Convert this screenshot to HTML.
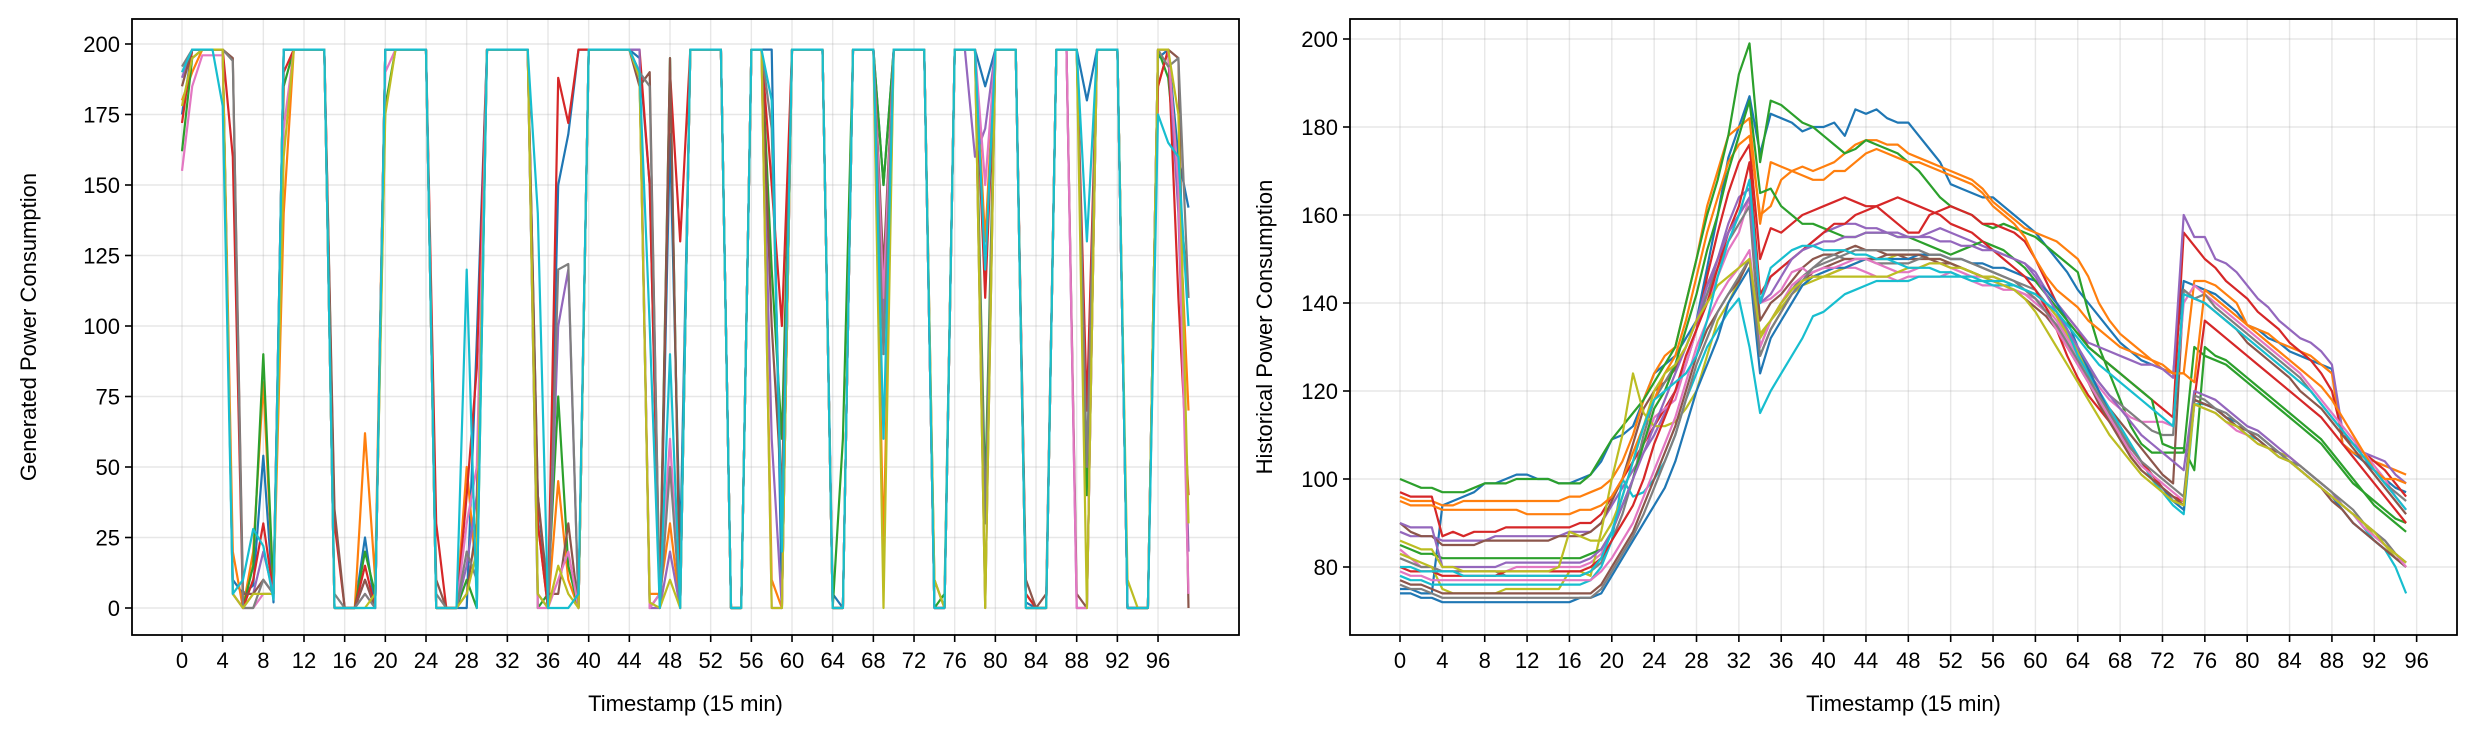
<!DOCTYPE html>
<html><head><meta charset="utf-8"><style>
html,body{margin:0;padding:0;background:#fff;}
svg{display:block;font-family:"Liberation Sans","DejaVu Sans",sans-serif;}
</style></head><body>
<svg id="chart" width="2476" height="742" viewBox="0 0 2476 742" xmlns="http://www.w3.org/2000/svg">
<rect width="2476" height="742" fill="#fff"/>
<g id="left"></g>
<g id="right"></g>
</svg>
<script>
const colors=["#1f77b4","#ff7f0e","#2ca02c","#d62728","#9467bd","#8c564b","#e377c2","#7f7f7f","#bcbd22","#17becf"];
const leftYTicks=[0,25,50,75,100,125,150,175,200];
const rightYTicks=[80,100,120,140,160,180,200];
const xTicks=[0,4,8,12,16,20,24,28,32,36,40,44,48,52,56,60,64,68,72,76,80,84,88,92,96];
const genBlue=[175,198,198,198,198,10,5,8,54,2,198,198,198,198,198,0,0,0,25,0,198,198,198,198,198,0,0,0,0,95,198,198,198,198,198,40,0,150,168,198,198,198,198,198,198,195,150,2,168,20,198,198,198,198,0,0,198,198,198,0,198,198,198,198,5,0,198,198,198,150,198,198,198,198,0,0,198,198,198,185,198,198,198,2,0,0,198,198,198,180,198,198,198,0,0,0,195,198,160,142];
const genOrange=[180,190,198,198,198,20,0,20,80,5,140,198,198,198,198,0,0,0,62,10,198,198,198,198,198,0,0,0,50,10,198,198,198,198,198,30,0,45,10,0,198,198,198,198,198,190,5,5,30,0,198,198,198,198,0,0,198,198,10,0,198,198,198,198,0,0,198,198,198,20,198,198,198,198,0,0,198,198,198,130,198,198,198,5,0,0,198,198,198,40,198,198,198,0,0,0,185,198,150,70];
const genGreen=[162,195,198,198,198,5,0,15,90,5,185,198,198,198,198,0,0,0,20,5,178,198,198,198,198,0,0,0,10,0,198,198,198,198,198,0,5,75,15,0,198,198,198,198,198,190,0,5,195,2,198,198,198,198,0,0,198,198,120,60,198,198,198,198,0,60,198,198,198,150,198,198,198,198,0,5,198,198,198,40,198,198,198,0,0,0,198,198,198,40,198,198,198,0,0,0,198,188,150,110];
const genRed=[172,198,198,198,198,160,0,10,30,5,190,198,198,198,198,30,0,0,15,0,198,198,198,198,198,30,0,0,40,85,198,198,198,198,198,30,0,188,172,198,198,198,198,198,198,198,150,0,190,130,198,198,198,198,0,0,198,198,150,100,198,198,198,198,0,0,198,198,198,100,198,198,198,198,0,0,198,198,198,110,198,198,198,5,0,0,198,198,198,70,198,198,198,0,0,0,185,198,110,40];
const genPurple=[188,198,198,198,198,5,0,5,20,5,198,198,198,198,198,0,0,0,10,0,198,198,198,198,198,0,0,0,15,40,198,198,198,198,198,5,0,100,120,0,198,198,198,198,198,198,0,0,20,0,198,198,198,198,0,0,198,198,60,0,198,198,198,198,0,0,198,198,198,100,198,198,198,198,0,0,198,198,160,170,198,198,198,0,0,0,198,198,0,0,198,198,198,0,0,0,198,198,140,20];
const genBrown=[185,198,198,198,198,195,5,5,10,5,198,198,198,198,198,35,0,0,10,0,198,198,198,198,198,10,0,0,5,30,198,198,198,198,198,40,5,5,30,0,198,198,198,198,198,185,190,0,195,0,198,198,198,198,0,0,198,198,100,40,198,198,198,198,0,0,198,198,198,120,198,198,198,198,10,0,198,198,198,0,198,198,198,10,0,5,198,198,5,0,198,198,198,0,0,0,198,198,195,0];
const genPink=[155,185,196,196,196,5,0,0,5,5,170,198,198,198,198,0,0,0,5,0,190,198,198,198,198,0,0,0,30,50,198,198,198,198,198,0,0,10,20,0,198,198,198,198,198,190,0,5,60,0,198,198,198,198,0,0,198,198,0,0,198,198,198,198,0,0,198,198,198,110,198,198,198,198,0,0,198,198,198,150,198,198,198,0,0,0,198,198,0,0,198,198,198,0,0,0,198,198,150,5];
const genGrey=[192,198,198,198,198,194,0,0,10,5,198,198,198,198,198,5,0,0,5,0,198,198,198,198,198,5,0,0,20,10,198,198,198,198,198,5,0,120,122,0,198,198,198,198,198,190,185,0,50,0,198,198,198,198,0,0,198,198,170,30,198,198,198,198,0,0,198,198,198,90,198,198,198,198,0,0,198,198,198,30,198,198,198,0,0,0,198,198,198,50,198,198,198,0,0,0,198,192,195,110];
const genOlive=[178,195,198,198,198,5,0,5,5,5,160,198,198,198,198,0,0,0,0,5,175,198,198,198,198,0,0,0,5,20,198,198,198,198,198,5,0,15,5,0,198,198,198,198,198,188,2,0,10,0,198,198,198,198,0,0,198,198,0,0,198,198,198,198,0,0,198,198,198,0,198,198,198,198,10,0,198,198,198,0,198,198,198,0,0,0,198,198,198,0,198,198,198,10,0,0,198,198,175,30];
const genCyan=[190,198,198,198,178,5,10,28,22,3,198,198,198,198,198,0,0,0,0,0,198,198,198,198,198,0,0,0,120,0,198,198,198,198,198,140,0,0,0,5,198,198,198,198,198,190,100,0,90,0,198,198,198,198,0,0,198,198,180,20,198,198,198,198,0,0,198,198,198,60,198,198,198,198,0,0,198,198,198,120,198,198,198,0,0,0,198,198,198,130,198,198,198,0,0,0,175,165,160,100];
const histBlueHi=[75,75,74,74,94,95,96,97,99,99,100,101,101,100,100,99,99,100,101,104,109,110,112,118,124,126,128,132,136,148,160,173,180,187,174,183,182,181,179,180,180,181,178,184,183,184,182,181,181,178,175,172,167,166,165,164,164,162,160,158,156,153,150,147,143,140,137,134,131,129,127,126,125,124,145,144,143,142,140,138,135,134,132,131,129,128,127,126,125,108,106,104,102,100,98,97];
const histOrangeHi=[96,95,95,95,94,94,95,95,95,95,95,95,95,95,95,95,96,96,97,98,100,104,110,118,124,128,130,140,150,162,170,178,180,182,158,172,171,170,171,170,171,172,174,176,177,177,176,176,174,173,172,171,170,169,168,166,163,161,159,157,156,155,154,152,150,146,140,136,133,131,129,127,125,124,124,145,145,144,142,140,135,134,133,131,130,129,128,126,124,108,106,105,104,103,102,101];
const histGreenHi=[100,99,98,98,97,97,97,98,99,99,99,100,100,100,100,99,99,99,101,105,109,112,115,118,122,126,130,140,150,160,168,178,192,199,172,186,185,183,181,180,178,176,174,175,177,176,175,174,172,170,167,164,162,161,160,158,157,158,157,156,155,153,151,149,147,138,130,124,118,112,108,106,106,106,106,130,128,127,126,124,122,120,118,116,114,112,110,108,105,102,99,97,95,93,91,90];
const histRedHi=[97,96,96,96,87,88,87,88,88,88,89,89,89,89,89,89,89,90,90,92,96,100,104,108,112,116,120,126,134,146,156,165,172,176,150,157,156,158,160,161,162,163,164,163,162,162,160,158,156,156,160,161,162,161,160,158,158,157,156,154,150,145,140,137,134,130,128,126,124,122,120,118,116,114,156,153,150,148,145,143,141,138,136,134,131,129,127,124,120,110,108,106,104,102,99,96];
const histPurpleHi=[88,87,87,87,86,86,86,86,86,87,87,87,87,87,87,87,88,88,88,90,94,98,102,106,110,115,120,126,134,142,150,158,164,166,140,146,148,150,152,154,156,157,158,158,157,157,156,156,155,155,156,157,156,155,154,153,152,151,150,149,147,143,140,137,134,131,130,129,128,127,126,126,125,123,160,155,155,150,149,147,144,141,139,136,134,132,131,129,126,111,108,106,105,104,101,99];
const histBrownMid=[90,88,87,87,85,85,85,85,86,86,86,86,86,86,86,87,87,87,88,90,95,100,108,116,120,122,125,130,136,144,150,156,160,164,136,140,142,145,148,150,151,151,152,153,152,152,151,151,150,150,150,149,149,148,147,146,146,145,144,143,141,138,134,130,126,122,119,116,113,110,107,104,101,99,143,141,140,138,136,134,131,129,127,125,123,120,118,116,113,110,107,104,101,98,95,92];
const histPinkMid=[84,82,80,80,79,79,79,79,79,79,79,80,80,80,80,80,80,80,81,83,88,94,100,108,114,116,118,126,134,140,146,152,156,164,140,141,143,147,148,146,146,147,148,148,147,146,146,145,146,146,146,146,147,146,145,144,144,143,143,142,141,139,136,132,128,124,121,118,116,114,113,113,113,112,140,144,142,140,138,136,134,132,130,128,126,124,121,118,115,112,109,106,103,100,96,93];
const histGreyMid=[82,81,80,80,79,79,79,79,79,79,78,78,78,78,78,78,78,78,79,81,86,92,100,110,118,122,126,130,136,142,148,154,158,162,130,136,140,143,146,148,150,151,150,150,150,149,149,149,149,150,151,151,150,150,149,148,147,146,145,144,143,140,137,133,129,125,122,119,117,115,113,111,110,110,143,141,142,139,137,135,133,131,129,127,125,123,120,117,114,111,108,105,102,99,97,95];
const histOliveLow=[83,82,81,80,75,74,74,74,74,74,75,75,75,75,75,75,79,79,78,88,100,110,124,115,112,112,113,116,120,128,136,140,145,150,132,136,139,142,144,145,146,147,148,149,150,150,150,151,151,151,150,150,149,148,147,146,146,145,144,143,142,140,137,133,129,124,118,113,109,105,102,100,97,95,95,118,117,116,114,113,111,110,108,106,105,103,101,99,97,94,92,90,87,85,82,80];
const histCyanLow=[78,77,77,76,76,76,76,76,76,76,76,76,76,76,76,76,76,76,77,80,86,100,96,97,100,104,110,118,124,130,134,138,141,130,115,120,124,128,132,137,138,140,142,143,144,145,145,145,145,146,146,146,146,146,145,145,144,144,144,143,142,140,138,134,128,124,120,116,112,108,104,100,97,94,92,117,117,116,114,112,110,109,107,105,104,102,100,98,96,94,92,89,86,84,80,74];
const histBlueLow=[74,74,73,73,72,72,72,72,72,72,72,72,72,72,72,72,72,73,73,74,78,82,86,90,94,98,104,112,120,126,132,140,144,148,124,132,136,140,144,146,147,148,148,149,150,150,150,150,150,151,151,151,150,150,149,149,148,148,147,146,145,143,140,136,130,125,120,115,111,107,104,101,98,95,93,118,117,116,114,113,111,110,108,106,104,102,100,98,96,93,90,88,86,84,82,80];
const histOrangeHi2=[95,94,94,94,93,93,93,93,93,93,93,93,92,92,92,92,92,93,93,94,96,100,106,112,118,124,128,136,146,156,164,172,176,178,160,162,168,170,169,168,168,170,170,172,174,175,174,173,172,172,171,170,169,168,167,165,162,160,158,155,150,146,143,141,139,136,134,132,130,129,128,127,126,124,124,122,143,141,139,137,135,133,131,129,127,125,123,121,118,114,110,106,102,100,100,99];
const histGreenMid=[85,84,83,83,82,82,82,82,82,82,82,82,82,82,82,82,82,82,83,84,88,94,100,108,116,120,126,134,142,152,160,170,178,186,165,166,162,160,158,158,157,156,155,155,156,156,156,155,155,154,153,152,151,152,153,154,153,152,150,148,145,142,139,136,133,130,128,126,124,122,120,118,108,107,107,102,130,128,127,125,123,121,119,117,115,113,111,109,106,103,100,97,94,92,90,88];
const histRedMid=[80,79,79,79,78,78,78,78,78,78,79,79,79,79,79,79,79,79,80,82,86,90,94,100,108,114,120,128,134,140,148,156,162,172,142,146,148,150,152,154,156,158,158,160,161,162,163,164,163,162,161,160,158,157,156,154,152,150,148,146,143,139,134,128,123,119,116,113,110,107,104,101,98,96,95,118,136,134,132,130,128,126,124,122,120,118,116,114,111,108,105,102,99,96,93,90];
const histPurpleMid=[90,89,89,89,80,80,80,80,80,80,81,81,81,81,81,81,81,81,82,84,88,94,100,106,112,118,124,130,136,144,150,156,160,164,140,142,146,150,152,153,154,154,155,155,156,156,156,155,155,155,155,154,154,153,153,152,152,151,150,149,146,142,138,134,130,126,122,119,116,113,110,108,106,104,102,120,119,118,116,114,112,111,109,107,105,103,101,99,97,94,92,90,88,86,83,81];
const histBrownLow=[77,76,76,75,74,74,74,74,74,74,74,74,74,74,74,74,74,74,74,76,80,84,88,94,100,106,112,120,128,134,138,142,145,150,128,134,138,142,145,147,148,149,150,150,150,150,151,151,151,151,150,150,149,148,147,146,145,144,143,141,139,137,134,130,126,122,117,113,109,105,102,100,98,96,94,118,117,116,114,112,111,109,107,106,104,102,100,98,95,93,90,88,86,84,82,80];
const histPinkLow=[79,78,78,77,77,77,77,77,77,77,77,77,77,77,77,77,77,77,77,79,82,86,90,96,102,108,114,122,130,136,141,145,148,152,130,136,140,144,146,147,148,148,149,150,150,149,148,147,147,148,149,149,148,147,146,146,145,144,143,142,140,138,134,130,126,122,118,114,110,106,103,101,99,97,95,117,116,115,113,111,110,108,107,105,104,102,100,98,96,94,92,89,87,85,83,80];
const histGreyLow=[76,75,75,74,73,73,73,73,73,73,73,73,73,73,73,73,73,73,73,75,79,83,87,92,98,104,110,118,126,132,138,142,146,150,128,134,138,142,145,148,149,150,151,152,152,152,152,152,152,152,151,151,150,150,149,148,147,146,145,143,141,138,135,131,127,123,119,115,111,107,104,102,100,98,96,119,118,116,115,113,111,110,108,106,104,103,101,99,97,95,93,90,88,86,83,81];
const histOliveLow2=[86,85,84,84,80,80,79,79,79,79,79,79,79,79,79,80,88,87,86,86,90,96,104,112,120,124,126,130,136,140,144,146,148,150,133,136,140,143,145,146,146,146,146,146,146,146,146,147,148,148,149,149,148,148,147,146,145,144,143,141,138,134,130,126,122,118,114,110,107,104,101,99,97,95,94,117,116,115,113,112,110,108,107,105,104,102,100,98,96,94,92,90,88,85,83,81];
const histCyanMid=[80,80,79,79,79,79,78,78,78,78,78,78,78,78,78,78,78,78,79,82,88,96,104,112,118,120,122,124,128,136,146,154,160,168,140,148,150,152,153,153,152,152,152,151,151,150,150,149,148,148,148,147,147,146,146,145,145,145,144,143,142,140,138,135,132,129,126,124,122,120,118,116,114,112,142,141,140,138,136,134,132,130,128,126,124,122,120,117,114,111,108,105,102,99,96,93];
const leftSeries=[genBlue,genOrange,genGreen,genRed,genPurple,genBrown,genPink,genGrey,genOlive,genCyan];
const rightSeries=[histBlueHi,histOrangeHi,histGreenHi,histRedHi,histPurpleHi,histBrownMid,histPinkMid,histGreyMid,histOliveLow,histCyanLow,histBlueLow,histOrangeHi2,histGreenMid,histRedMid,histPurpleMid,histBrownLow,histPinkLow,histGreyLow,histOliveLow2,histCyanMid];

const NS="http://www.w3.org/2000/svg";
function mk(tag,attrs,parent){const e=document.createElementNS(NS,tag);for(const k in attrs)e.setAttribute(k,attrs[k]);parent.appendChild(e);return e;}

function panel(g,cfg){
  const {x0,x1,y0,y1,xs,ys,yTicks,series,ylabel,ylabelX,clipId}=cfg;
  const defs=mk("defs",{},g);
  const cp=mk("clipPath",{id:clipId},defs);
  mk("rect",{x:x0,y:y0,width:x1-x0,height:y1-y0},cp);
  yTicks.forEach(t=>{
    const l=mk("line",{x1:x0,x2:x1,y1:ys(t),y2:ys(t),stroke:"#b0b0b0","stroke-opacity":"0.3","stroke-width":"1.4"},g);
    
    
  });
  xTicks.forEach(t=>{
    const l=mk("line",{x1:xs(t),x2:xs(t),y1:y0,y2:y1,stroke:"#b0b0b0","stroke-opacity":"0.3","stroke-width":"1.4"},g);
    
    
  });
  const lg=mk("g",{"clip-path":"url(#"+clipId+")"},g);
  series.forEach((s,i)=>{
    const d=s.map((v,j)=>(j?"L":"M")+xs(j).toFixed(1)+" "+ys(v).toFixed(1)).join("");
    const p=mk("path",{d:d,fill:"none",stroke:colors[i%10],"stroke-width":"2.2","stroke-linejoin":"round"},lg);
    
    
  });
  const fr=mk("rect",{x:x0,y:y0,width:x1-x0,height:y1-y0,fill:"none",stroke:"#000","stroke-width":"1.8"},g);
  
  
  yTicks.forEach(t=>{
    mk("line",{x1:x0-7,x2:x0,y1:ys(t),y2:ys(t),stroke:"#000","stroke-width":"1.6"},g);
    const tx=mk("text",{x:x0-12,y:ys(t)+8,"text-anchor":"end","font-size":"22",fill:"#000"},g);
    tx.textContent=t;
    
    
  });
  xTicks.forEach(t=>{
    mk("line",{x1:xs(t),x2:xs(t),y1:y1,y2:y1+7,stroke:"#000","stroke-width":"1.6"},g);
    const tx=mk("text",{x:xs(t),y:y1+33,"text-anchor":"middle","font-size":"22",fill:"#000"},g);
    tx.textContent=t;
    
    
  });
  const xl=mk("text",{x:(x0+x1)/2,y:y1+76,"text-anchor":"middle","font-size":"22",fill:"#000"},g);
  xl.textContent="Timestamp (15 min)";
  
  
  const yc=(y0+y1)/2;
  const yl=mk("text",{x:ylabelX,y:yc,"text-anchor":"middle","font-size":"22",fill:"#000",transform:"rotate(-90 "+ylabelX+" "+yc+")"},g);
  yl.textContent=ylabel;
  
  
}

panel(document.getElementById("left"),{
  x0:132,x1:1239,y0:19,y1:635,
  xs:v=>182+v*10.167, ys:v=>608-v*2.82,
  yTicks:leftYTicks, series:leftSeries,
  ylabel:"Generated Power Consumption", ylabelX:36, clipId:"clipL"});
panel(document.getElementById("right"),{
  x0:1350,x1:2457,y0:19,y1:635,
  xs:v=>1400+v*10.59, ys:v=>567-(v-80)*4.4,
  yTicks:rightYTicks, series:rightSeries,
  ylabel:"Historical Power Consumption", ylabelX:1272, clipId:"clipR"});
</script>
</body></html>
